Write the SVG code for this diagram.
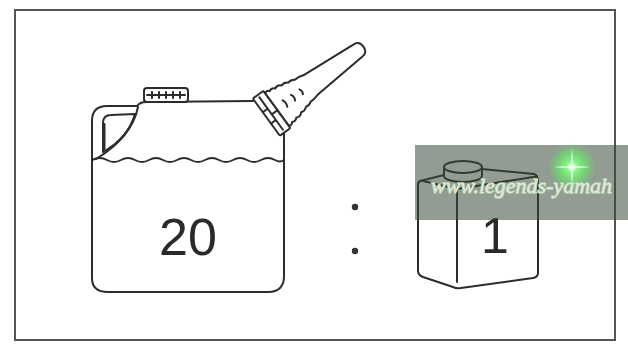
<svg xmlns="http://www.w3.org/2000/svg" width="628" height="347" viewBox="0 0 628 347">
  <defs>
    <style>
      .ln { fill: none; stroke: #2c2c2c; stroke-width: 2; stroke-linejoin: round; stroke-linecap: round; }
      .fl { fill: #ffffff; stroke: #2c2c2c; stroke-width: 2; stroke-linejoin: round; }
      .num { font-family: "Liberation Sans", Arial, sans-serif; fill: #2a2a2a; }
      .wm { font-family: "Liberation Serif", "DejaVu Serif", serif; font-style: italic; fill: #e4e4e4; stroke: #b4dcaa; stroke-width: 1.3; paint-order: stroke; }
    </style>
    <radialGradient id="glow" cx="0.5" cy="0.5" r="0.5">
      <stop offset="0" stop-color="#ffffff" stop-opacity="1"/>
      <stop offset="0.25" stop-color="#7dff7d" stop-opacity="0.9"/>
      <stop offset="1" stop-color="#3cff3c" stop-opacity="0"/>
    </radialGradient>
  </defs>

  <rect width="628" height="347" fill="#ffffff"/>

  <!-- outer frame -->
  <rect x="15" y="10" width="600" height="330" fill="none" stroke="#555555" stroke-width="2"/>

  <!-- large jerrycan -->
  <g id="large-can">
    <!-- body outline -->
    <path class="ln" d="M 92 278 L 92 121 Q 92 106 107 106 L 137 106 Q 140 102 146 102 L 253 101"/>
    <path class="ln" d="M 284 133 L 284 276 Q 284 292 268 292 L 108 292 Q 92 292 92 278"/>
    <!-- handle -->
    <path class="ln" d="M 138 107 Q 132 137 96 159"/>
    <path class="ln" d="M 103 152 L 103 123 Q 103 115 111 115 L 135 114 Q 128 138 103 152 Z"/>
    <path class="ln" d="M 104.5 124 L 104.5 149" stroke-width="2.6"/>
    <!-- cap -->
    <rect class="fl" x="144" y="88" width="44" height="14" rx="3"/>
    <path class="ln" d="M 147 95 H 185 M 152 92 V 98 M 159 92 V 98 M 166 92 V 98 M 173 92 V 98 M 180 92 V 98" stroke-width="1.1"/>
    <!-- liquid surface -->
    <path class="ln" d="M 92 160 Q 100 156 107 160 Q 114 164 121 160 Q 128 156 135 160 Q 142 164 149 160 Q 156 156 163 160 Q 170 164 177 160 Q 184 156 191 160 Q 198 164 205 160 Q 212 156 219 160 Q 226 164 233 160 Q 240 156 247 160 Q 254 164 261 160 Q 268 156 275 160 Q 280 163 284 160" stroke-width="1.6"/>
    <!-- spout -->
    <g transform="translate(272,113) rotate(-36)">
      <path class="fl" d="M 6 -20 Q 9 -22 11 -19 Q 14 -21 17 -18 Q 21 -20 24 -16.5 Q 28 -18 31 -15 Q 35 -16 38 -13.5 Q 42 -14 48 -12 L 106 -7.5 Q 113 -7.5 113 0 Q 113 7.5 106 7.5 L 48 12 Q 42 14 38 13.5 Q 35 16 31 15 Q 28 18 24 16.5 Q 21 20 17 18 Q 14 21 11 19 Q 9 22 6 20 Z"/>
      <path class="ln" d="M 16 -4 Q 18 0 16 4 M 26 -3.5 Q 28 0 26 3.5 M 36 -3 Q 38 0 36 3" stroke-width="1.3"/>
      <rect class="fl" x="-7" y="-23" width="13" height="46" rx="1.5"/>
      <path class="ln" d="M -1 -20 V 20 M -7 -6 H -1 M -7 8 H -1 M -1 1 H 6" stroke-width="1.2"/>
    </g>
    <text class="num" x="188" y="255" font-size="52" text-anchor="middle">20</text>
  </g>

  <!-- ratio colon -->
  <g id="colon">
    <circle cx="355" cy="207" r="3.2" fill="#333333"/>
    <circle cx="355" cy="251" r="3.2" fill="#333333"/>
  </g>

  <!-- small canister -->
  <g id="small-can">
    <path class="ln" d="M 420 181 L 444 175 M 482 169 L 534 174"/>
    <path class="ln" d="M 418 185 Q 418 180 423 181 L 457 189 L 533 177 Q 538 176 538 181 L 538 273 Q 538 277 533 278 L 461 288 Q 457 289 453 287 L 423 277 Q 418 275 418 271 Z"/>
    <path class="ln" d="M 420 181 Q 418 182 418 185 M 534 174 Q 538 175 538 181"/>
    <path class="ln" d="M 457 190 L 457 282"/>
    <!-- filler cap -->
    <path class="fl" d="M 444 167 L 444 176 A 19 6 0 0 0 482 176 L 482 167"/>
    <ellipse class="fl" cx="463" cy="167" rx="19" ry="6"/>
    <text class="num" x="495" y="253" font-size="50" text-anchor="middle">1</text>
  </g>

  <!-- site watermark band -->
  <g id="watermark">
    <rect x="415" y="145" width="213" height="75" fill="#3a4a3a" opacity="0.55"/>
    <circle cx="572" cy="167" r="24" fill="url(#glow)"/>
    <path d="M 572 148 L 573.5 165.5 L 591 167 L 573.5 168.5 L 572 186 L 570.5 168.5 L 553 167 L 570.5 165.5 Z" fill="#eaffea" opacity="0.85"/>
    <text class="wm" x="431" y="193" font-size="22">www.legends-yamah</text>
  </g>
</svg>
